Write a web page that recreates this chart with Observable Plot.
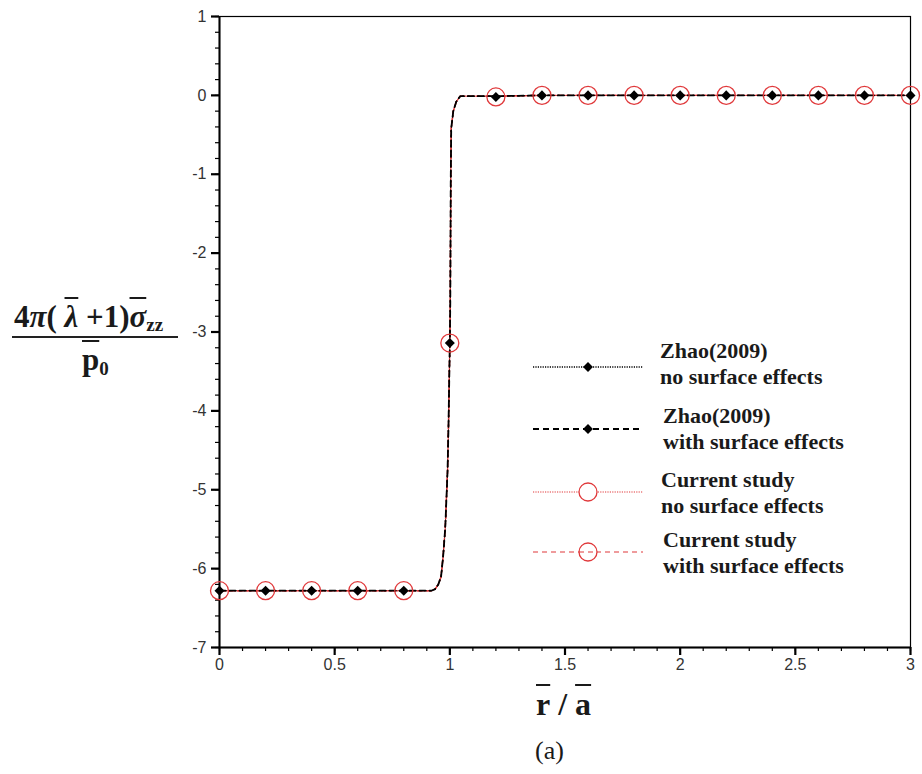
<!DOCTYPE html>
<html><head><meta charset="utf-8">
<script src="https://cdn.jsdelivr.net/npm/d3@7"></script>
<script src="https://cdn.jsdelivr.net/npm/@observablehq/plot@0.6"></script>
<style>
body{margin:0;background:#fff;}
#wrap{position:relative;width:922px;height:774px;overflow:hidden;}
.ser{font-family:"Liberation Serif","Times New Roman",serif;font-weight:bold;color:#1a1a1a;position:absolute;white-space:nowrap;}
.ov{text-decoration:overline;text-decoration-thickness:2px;}
.leg{font-size:22px;line-height:26px;}
</style></head><body><div id="wrap"></div>
<script>
// Step curve (all four series coincide)
const curveX = [0, 0.2, 0.4, 0.6, 0.8, 0.9, 0.92, 0.936, 0.95, 0.962, 0.971, 0.98, 0.99, 0.994, 1.0, 1.002, 1.004, 1.006, 1.015, 1.028, 1.045, 1.1, 1.2, 1.4, 1.6, 1.8, 2.0, 2.2, 2.4, 2.6, 2.8, 3.0];
const curveY = [-6.28, -6.28, -6.28, -6.28, -6.28, -6.28, -6.28, -6.26, -6.20, -6.10, -5.84, -5.49, -4.77, -4.22, -3.14, -2.61, -1.09, -0.42, -0.20, -0.08, -0.01, -0.01, -0.01, 0, 0, 0, 0, 0, 0, 0, 0, 0];
// Marker positions
const markerX = [0, 0.2, 0.4, 0.6, 0.8, 1.0, 1.2, 1.4, 1.6, 1.8, 2.0, 2.2, 2.4, 2.6, 2.8, 3.0];
const zhaoY = [-6.28, -6.28, -6.28, -6.28, -6.28, -3.14, -0.02, 0, 0, 0, 0, 0, 0, 0, 0, 0];
const currentY = [-6.28, -6.28, -6.28, -6.28, -6.28, -3.14, -0.02, 0, 0, 0, 0, 0, 0, 0, 0, 0];
const seriesNames = [
  ["Zhao(2009)", "no surface effects"],
  ["Zhao(2009)", "with surface effects"],
  ["Current study", "no surface effects"],
  ["Current study", "with surface effects"]
];
const xTicks = [0, 0.5, 1, 1.5, 2, 2.5, 3];
const yTicks = [-7, -6, -5, -4, -3, -2, -1, 0, 1];
const xMinor = d3.range(0, 31).map(i => i / 10);
const yMinor = d3.range(-35, 6).map(i => i / 5);

const RED = "#e0393b";
const curve = curveX.map((x, i) => ({x, y: curveY[i]}));
const pts = markerX.map((x, i) => ({x, zhao: zhaoY[i], cur: currentY[i]}));

const plot = Plot.plot({
  width: 922, height: 774,
  marginLeft: 219, marginRight: 12, marginTop: 16, marginBottom: 127,
  x: {domain: [0, 3]},
  y: {domain: [-7, 1]},
  style: {fontFamily: "'Liberation Sans', Arial, sans-serif", fontSize: "16px", color: "#333", background: "#fff"},
  marks: [
    Plot.axisX(xMinor, {tickSize: 4, tickFormat: () => "", label: null, stroke: "#000", strokeWidth: 1.2}),
    Plot.axisX(xTicks, {tickSize: 8, tickPadding: 3, tickFormat: d => String(d), label: null, stroke: "#000", strokeWidth: 2.2}),
    Plot.axisY(yMinor, {tickSize: 4, tickFormat: () => "", label: null, stroke: "#000", strokeWidth: 1.2}),
    Plot.axisY(yTicks, {tickSize: 8, tickPadding: 5, tickFormat: d => String(d), label: null, stroke: "#000", strokeWidth: 2.2}),
    Plot.frame({stroke: "#000", strokeWidth: 1.2}),
    Plot.ruleX([0], {stroke: "#000", strokeWidth: 2}),
    Plot.ruleY([-7], {stroke: "#000", strokeWidth: 2}),
    Plot.line(curve, {x: "x", y: "y", stroke: RED, strokeWidth: 1.4, strokeDasharray: "1.5,1.5"}),
    Plot.line(curve, {x: "x", y: "y", stroke: RED, strokeWidth: 1.4, strokeDasharray: "5,4"}),
    Plot.line(curve, {x: "x", y: "y", stroke: "#000", strokeWidth: 1.8, strokeDasharray: "6,4"}),
    Plot.line(curve, {x: "x", y: "y", stroke: "#000", strokeWidth: 1.3, strokeDasharray: "1.5,3.5"}),
    Plot.dot(pts, {x: "x", y: "cur", r: 9, stroke: RED, fill: "none", strokeWidth: 1.3}),
    Plot.dot(pts, {x: "x", y: "zhao", symbol: "square", rotate: 45, r: 4, fill: "#000", stroke: "none"})
  ]
});
const wrap = document.getElementById("wrap");
plot.style.position = "absolute";
plot.style.left = "0px";
plot.style.top = "0px";
wrap.appendChild(plot);

// Legend
const leg = d3.select(wrap).append("svg")
  .attr("width", 922).attr("height", 774)
  .style("position", "absolute").style("left", "0px").style("top", "0px");
const legLineY = [367, 429, 492, 552];
const legStyles = [
  {stroke: "#000", dash: "1.2,1.2", w: 1.5, mark: "diamond"},
  {stroke: "#000", dash: "6,4", w: 2.2, mark: "diamond"},
  {stroke: RED, dash: "1.2,1.2", w: 1.2, mark: "circle"},
  {stroke: RED, dash: "5,4", w: 1.2, mark: "circle"}
];
const legTextX = [660, 663, 661, 663];
const legTextBase = [358, 423, 487, 547];
legStyles.forEach((s, i) => {
  const y = legLineY[i];
  leg.append("line").attr("x1", 533).attr("x2", 643).attr("y1", y).attr("y2", y)
    .attr("stroke", s.stroke).attr("stroke-width", s.w).attr("stroke-dasharray", s.dash);
  if (s.mark === "diamond") {
    leg.append("rect").attr("x", -3.5).attr("y", -3.5).attr("width", 7).attr("height", 7)
      .attr("fill", "#000").attr("transform", `translate(588,${y}) rotate(45)`);
  } else {
    leg.append("circle").attr("cx", 588).attr("cy", y).attr("r", 9)
      .attr("fill", "#fff").attr("stroke", RED).attr("stroke-width", 1.3);
    if (i === 3) {
      leg.append("line").attr("x1", 579).attr("x2", 597).attr("y1", y).attr("y2", y)
        .attr("stroke", RED).attr("stroke-width", 1.2).attr("stroke-dasharray", "5,4");
    }
  }
  const d = document.createElement("div");
  d.className = "ser leg";
  d.style.left = legTextX[i] + "px";
  d.style.top = (legTextBase[i] - 20.4) + "px";
  d.innerHTML = seriesNames[i][0] + "<br>" + seriesNames[i][1];
  wrap.appendChild(d);
});

// Y label (fraction)
const num = document.createElement("div");
num.className = "ser";
num.style.cssText = "left:14px;top:301px;font-size:31px;line-height:31px;";
num.innerHTML = '4<i>π</i>( <i class="ov">λ</i> +1)<i class="ov">σ</i><sub style="font-size:19px;vertical-align:-4px;">zz</sub>';
wrap.appendChild(num);
const bar = document.createElement("div");
bar.style.cssText = "position:absolute;left:12px;top:336px;width:166px;height:1.5px;background:#222;";
wrap.appendChild(bar);
const den = document.createElement("div");
den.className = "ser";
den.style.cssText = "left:82px;top:344px;font-size:31px;line-height:31px;";
den.innerHTML = '<span class="ov">p</span><sub style="font-size:19px;vertical-align:-5px;">0</sub>';
wrap.appendChild(den);

// X label
const xl = document.createElement("div");
xl.className = "ser";
xl.style.cssText = "left:536px;top:688px;font-size:32px;line-height:32px;";
xl.innerHTML = '<span class="ov">r</span>&nbsp;/&nbsp;<span class="ov">a</span>';
wrap.appendChild(xl);

// Caption
const cap = document.createElement("div");
cap.className = "ser";
cap.style.cssText = "left:535px;top:738px;font-size:26px;line-height:26px;font-weight:normal;";
cap.textContent = "(a)";
wrap.appendChild(cap);
</script>
</body></html>
